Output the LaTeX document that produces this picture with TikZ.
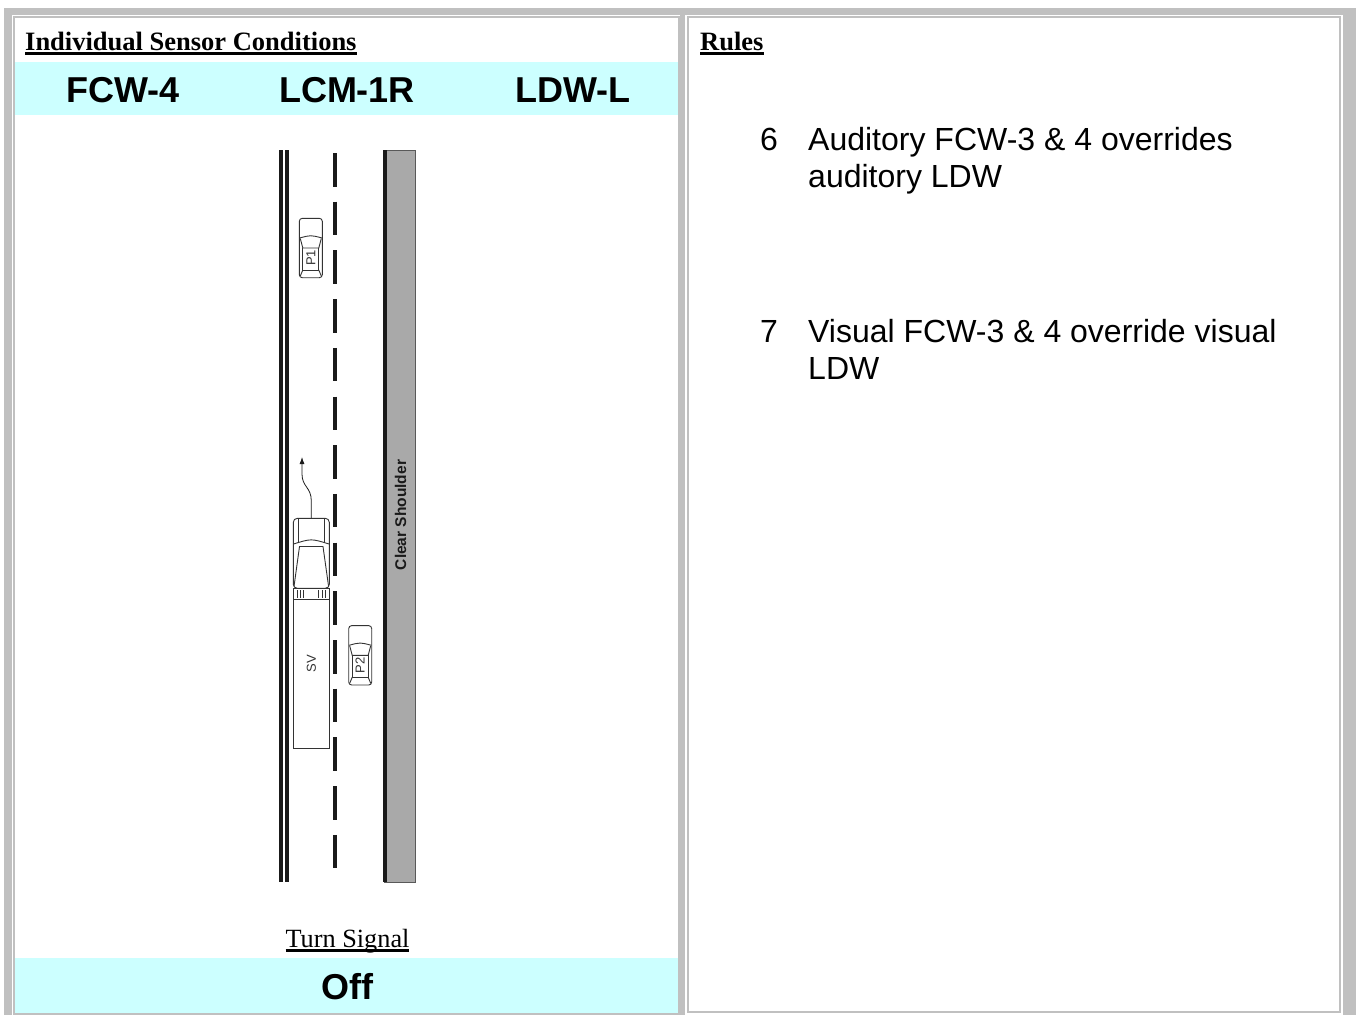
\documentclass[tikz,border=0pt]{standalone}
\usepackage{fontspec}
\setmainfont{Liberation Serif}
\setsansfont{Liberation Sans}
\usetikzlibrary{arrows.meta}

\definecolor{framegray}{HTML}{C0C0C0}
\definecolor{bandcyan}{HTML}{CCFFFF}
\definecolor{shouldergray}{HTML}{A9A9A9}
\definecolor{ink}{HTML}{1A1A1A}
\definecolor{carink}{HTML}{333333}

% underline drawn at a fixed depth below the baseline
\newsavebox\ulsave
\newcommand{\ulined}[1]{\sbox\ulsave{#1}\rlap{\rule[-4.5pt]{\wd\ulsave}{2.2pt}}\usebox\ulsave}

\tikzset{
  hdr/.style={anchor=base west, inner sep=0pt, font=\fontsize{26.5}{30}\selectfont\bfseries},
  sensor/.style={anchor=base, inner sep=0pt, font=\sffamily\bfseries\fontsize{36}{40}\selectfont},
  ruletext/.style={anchor=base west, inner sep=0pt, font=\sffamily\fontsize{32}{37}\selectfont},
  rulenum/.style={anchor=base, inner sep=0pt, font=\sffamily\fontsize{32}{37}\selectfont},
  vlabel/.style={rotate=90, inner sep=0pt, font=\sffamily\fontsize{13}{15}\selectfont, text=carink},
  carline/.style={draw=carink, line width=0.9pt},
  roadline/.style={draw=ink, line width=3.8pt},
  pics/car/.style={code={
    \draw[carline, rounded corners=3pt] (-11.5,-29.7) rectangle (11.5,29.7);
    \draw[carline] (-11.2,-10) .. controls (0,-13) .. (11.2,-10);
    \draw[carline] (-10.5,-9.5) -- (-8,0) -- (8,0) -- (10.5,-9.5);
    \draw[carline] (-8,0) -- (-8,22) -- (8,22) -- (8,0);
    \draw[carline] (-8,22) -- (-10.5,28);
    \draw[carline] (8,22) -- (10.5,28);
    \node[vlabel] (-label) at (0,10) {#1};
  }}
}

\begin{document}
\begin{tikzpicture}[x=1pt, y=-1pt]
\useasboundingbox (0,0) rectangle (1356,1015);

% table frame
\fill[framegray] (4,8) rectangle (1356,1015);
% left cell
\fill[white] (12,14.7) rectangle (680,1015);
\fill[framegray] (13.3,16) rectangle (680,1015);
\fill[white] (15.3,18) rectangle (678,1012.5);
% right cell
\fill[white] (685,14.7) rectangle (1343,1015);
\fill[framegray] (687,16.3) rectangle (1341,1013);
\fill[white] (689,18.3) rectangle (1339,1011);

% cyan bands
\fill[bandcyan] (15.3,62) rectangle (678,115);
\fill[bandcyan] (15.3,958) rectangle (678,1012.5);

% headings
\node[hdr] (title) at (25,50) {\ulined{Individual Sensor Conditions}};
\node[hdr] (rules) at (700,50) {\ulined{Rules}};

% sensor states
\node[sensor] (fcw) at (123,102) {FCW-4};
\node[sensor] (lcm) at (347,102) {LCM-1R};
\node[sensor] (ldw) at (573,102) {LDW-L};

% rules
\node[rulenum] (n6) at (769,150.5) {6};
\node[ruletext] (r6a) at (808,150.5) {Auditory FCW-3 \& 4 overrides};
\node[ruletext] (r6b) at (808,187.5) {auditory LDW};
\node[rulenum] (n7) at (769,342.5) {7};
\node[ruletext] (r7a) at (808,342.5) {Visual FCW-3 \& 4 override visual};
\node[ruletext] (r7b) at (808,379.5) {LDW};

% road: double edge line, dashed lane line, shoulder
\draw[roadline] (281,150) -- (281,882);
\draw[roadline] (287.2,150) -- (287.2,882);
\draw[roadline, dash pattern=on 33.5pt off 15.2pt] (335,153) -- (335,869);
\fill[shouldergray, draw=black!65, line width=0.8pt] (384,150) rectangle (415.7,882);
\draw[draw=ink, line width=3.4pt] (385,150) -- (385,882);
\node[rotate=90, inner sep=0pt, text=ink, font=\sffamily\bfseries\fontsize{15.5}{18}\selectfont] (shoulder) at (400.5,515) {Clear Shoulder};

% other vehicles
\pic (p1) at (310.8,248) {car=P1};
\pic (p2) at (360.2,655.3) {car=P2};

% subject vehicle: tractor and trailer
\node[draw=carink, line width=0.9pt, rounded corners=4pt, minimum width=36pt, minimum height=70pt, inner sep=0pt] (cab) at (311.3,553.3) {};
\draw[carline] (298,519) -- (298,542);
\draw[carline] (324.6,519) -- (324.6,542);
\draw[carline] (293.5,544) .. controls (311.3,538.5) .. (329,544);
\draw[carline] (294,586.5) -- (299.5,546.5) -- (323,546.5) -- (328.6,586.5);
\draw[carline] (293.3,588.3) rectangle (329.3,599.3);
\foreach \wx in {297,300.5,303.5,318.5,322,325.5}
  \draw[carink, line width=0.8pt] (\wx,590) -- (\wx,597.5);
\node[draw=carink, line width=0.9pt, minimum width=36pt, minimum height=149pt, inner sep=0pt] (trailer) at (311.3,673.8) {};
\node[vlabel] (sv) at (311.3,663.5) {SV};

% intended path of the subject vehicle
\coordinate (svgoal) at (302,457);
\draw[draw=ink, line width=0.8pt, -{Latex[length=7pt,width=5pt]}]
  (cab.north) -- (311.3,501) .. controls (311.3,487) and (302,487) .. (302,474) -- (svgoal);

% turn signal
\node[anchor=base, inner sep=0pt, font=\fontsize{26.3}{30}\selectfont] (turn) at (347.5,947) {\ulined{Turn Signal}};
\node[sensor] (off) at (347,999) {Off};
\end{tikzpicture}
\end{document}
